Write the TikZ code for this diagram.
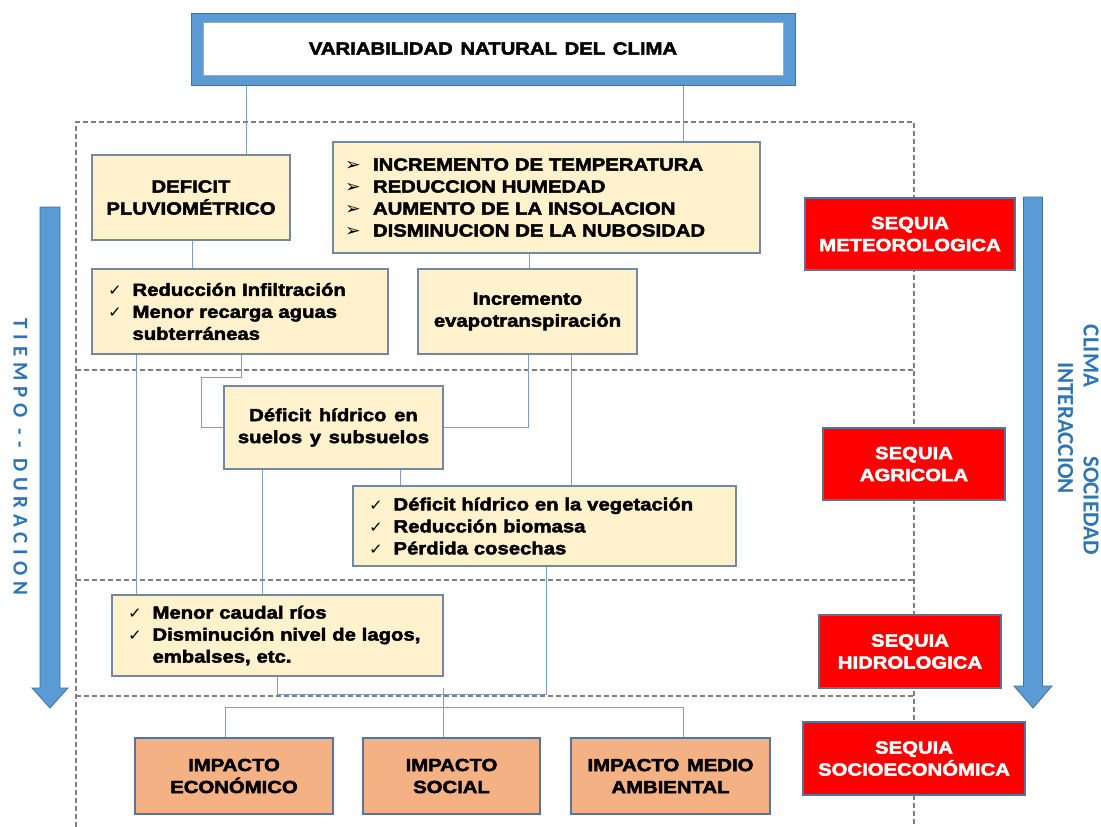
\documentclass[tikz,border=0pt]{standalone}
\usepackage{fontspec}
\setmainfont{Liberation Sans}[FakeStretch=1.16, WordSpace=1.35, BoldFeatures={FakeBold=2.6}]
\newfontfamily\symf{DejaVu Sans}[FakeStretch=1.1]
\newfontfamily\carl{Carlito}
\newfontfamily\carlsp{Carlito}[LetterSpace=28]
\usetikzlibrary{backgrounds,calc}
\definecolor{cream}{HTML}{FFF2CC}
\definecolor{creamedge}{HTML}{7588A3}
\definecolor{orangefill}{HTML}{F4B183}
\definecolor{orangeedge}{HTML}{5575A0}
\definecolor{redfill}{HTML}{FF0000}
\definecolor{rededge}{HTML}{5A7299}
\definecolor{connc}{HTML}{7F9DC0}
\definecolor{dashc}{HTML}{808080}
\definecolor{arrowblue}{HTML}{5B9BD5}
\definecolor{arrowedge}{HTML}{41719C}
\definecolor{topinner}{HTML}{9AA8B8}
\definecolor{textblue}{HTML}{2E75B6}
\newcommand\bulsym{\makebox[28pt][l]{\symf\mdseries\fontsize{17}{22}\selectfont ➢}}
\newcommand\chksym{\makebox[24.5pt][l]{\symf\mdseries\fontsize{15}{22}\selectfont ✓}}
\newcommand\bitem[1]{\mbox{\bulsym#1}}
\newcommand\citem[1]{\mbox{\chksym#1}}
\newcommand\cont[1]{\mbox{\hspace*{24.5pt}#1}}
\tikzset{
  base/.style={inner sep=0pt, font=\fontsize{17.5}{22}\selectfont\bfseries},
  cbox/.style={base, draw=creamedge, line width=1.1pt, fill=cream},
  ctr/.style={align=center},
  ibox/.style={base, draw=orangeedge, line width=1.1pt, fill=orangefill, align=center},
  rbox/.style={base, draw=rededge, line width=1.1pt, fill=redfill, text=white, align=center},
  conn/.style={draw=connc, line width=0.9pt},
  dsh/.style={draw=dashc, line width=1.2pt, dash pattern=on 5pt off 3pt},
  bigarrow/.style={fill=arrowblue, draw=arrowedge, line width=0.8pt},
  vtext/.style={rotate=-90, text=textblue, inner sep=0pt},
}
\begin{document}
\begin{tikzpicture}[x=1pt,y=-1pt]
\useasboundingbox (0,0) rectangle (1101,827);
% top box
\filldraw[fill=arrowblue, draw=arrowedge, line width=0.8pt] (191,13) rectangle (795,85);
\node[base, draw=topinner, line width=0.8pt, fill=white, minimum width=580pt, minimum height=53pt] (top) at (493,48.5) {VARIABILIDAD NATURAL DEL CLIMA};
% cream boxes
\node[cbox, ctr, minimum width=198pt, minimum height=85pt] (defp) at (191,197.5) {DEFICIT\\PLUVIOMÉTRICO};
\node[cbox, align=left, inner xsep=12pt, text width=403pt, minimum height=111pt] (temp) at (546.5,197.5)
  {\bitem{INCREMENTO DE TEMPERATURA}\\\bitem{REDUCCION HUMEDAD}\\\bitem{AUMENTO DE LA INSOLACION}\\\bitem{DISMINUCION DE LA NUBOSIDAD}};
\node[cbox, align=left, inner xsep=16pt, text width=264pt, minimum height=85pt] (infil) at (240,311.5)
  {\citem{Reducción Infiltración}\\\citem{Menor recarga aguas}\\\cont{subterráneas}};
\node[cbox, ctr, minimum width=219pt, minimum height=85pt] (evap) at (527.5,311.5) {Incremento\\evapotranspiración};
\node[cbox, ctr, minimum width=219pt, minimum height=83pt] (suelo) at (333.5,427.5) {Déficit hídrico en\\suelos y subsuelos};
\node[cbox, align=left, inner xsep=16pt, text width=351pt, minimum height=80pt] (veg) at (544.5,526)
  {\citem{Déficit hídrico en la vegetación}\\\citem{Reducción biomasa}\\\citem{Pérdida cosechas}};
\node[cbox, align=left, inner xsep=16pt, text width=299pt, minimum height=81pt] (rios) at (277.5,635.5)
  {\citem{Menor caudal ríos}\\\citem{Disminución nivel de lagos,}\\\cont{embalses, etc.}};
% impact boxes
\node[ibox, minimum width=198pt, minimum height=76pt] (eco) at (234,776) {IMPACTO\\ECONÓMICO};
\node[ibox, minimum width=177pt, minimum height=76pt] (soc) at (451.5,776) {IMPACTO\\SOCIAL};
\node[ibox, minimum width=199pt, minimum height=76pt] (amb) at (670.5,776) {IMPACTO MEDIO\\AMBIENTAL};
% red boxes
\node[rbox, minimum width=210pt, minimum height=72pt] (smet) at (910,234) {SEQUIA\\METEOROLOGICA};
\node[rbox, minimum width=182pt, minimum height=72pt] (sagr) at (914,464) {SEQUIA\\AGRICOLA};
\node[rbox, minimum width=182pt, minimum height=73pt] (shid) at (910,651.5) {SEQUIA\\HIDROLOGICA};
\node[rbox, minimum width=222pt, minimum height=73pt] (ssoc) at (914,758.5) {SEQUIA\\SOCIOECONÓMICA};
% big arrows
\filldraw[bigarrow] (40,207) -- (60,207) -- (60,688) -- (68,688) -- (50,708) -- (32,688) -- (40,688) -- cycle;
\filldraw[bigarrow] (1023.5,197) -- (1042.5,197) -- (1042.5,686) -- (1052,686) -- (1033,708) -- (1014,686) -- (1023.5,686) -- cycle;
% vertical texts
\node[vtext, font=\carlsp\bfseries\fontsize{21}{24}\selectfont] (tiempo) at (20.5,457) {TIEMPO -{}- DURACION};
\node[vtext, font=\carl\bfseries\fontsize{23}{26}\selectfont] (clima) at (1091,356) {CLIMA};
\node[vtext, font=\carl\bfseries\fontsize{23}{26}\selectfont] (socd) at (1091,505.5) {SOCIEDAD};
\node[vtext, font=\carl\bfseries\fontsize{23}{26}\selectfont] (inter) at (1065.5,428) {INTERACCION};
\coordinate (socTop) at (443,688);
\begin{scope}[on background layer]
  \fill[white] (0,0) rectangle (1101,827);
  % dashed frame
  \draw[dsh] (76,827) -- (76,122) -- (914,122) -- (914,827);
  \draw[dsh] (76,370) -- (914,370);
  \draw[dsh] (76,580) -- (914,580);
  \draw[dsh] (76,696) -- (914,696);
  % connectors
  \draw[conn] (246,0 |- top.south) -- (246,0 |- defp.north);
  \draw[conn] (683,0 |- top.south) -- (683,0 |- temp.north);
  \draw[conn] (192,0 |- defp.south) -- (192,0 |- infil.north);
  \draw[conn] (529,0 |- temp.south) -- (529,0 |- evap.north);
  \draw[conn] (136,0 |- infil.south) -- (136,0 |- rios.north);
  \draw[conn] (241,0 |- infil.south) -- (241,377) -| (201,0 |- suelo.west) -- (suelo.west);
  \draw[conn] (528,0 |- evap.south) |- (suelo.east);
  \draw[conn] (571,0 |- evap.south) -- (571,0 |- veg.north);
  \draw[conn] (262,0 |- suelo.south) -- (262,0 |- rios.north);
  \draw[conn] (400,0 |- suelo.south) -- (400,0 |- veg.north);
  \draw[conn] (546,0 |- veg.south) -- (546,694) -| (277,0 |- rios.south);
  \draw[conn] (225,0 |- eco.north) -- (225,707) -| (683,0 |- amb.north);
  \draw[conn] (socTop) -- (443,0 |- soc.north);
\end{scope}
\end{tikzpicture}
\end{document}
